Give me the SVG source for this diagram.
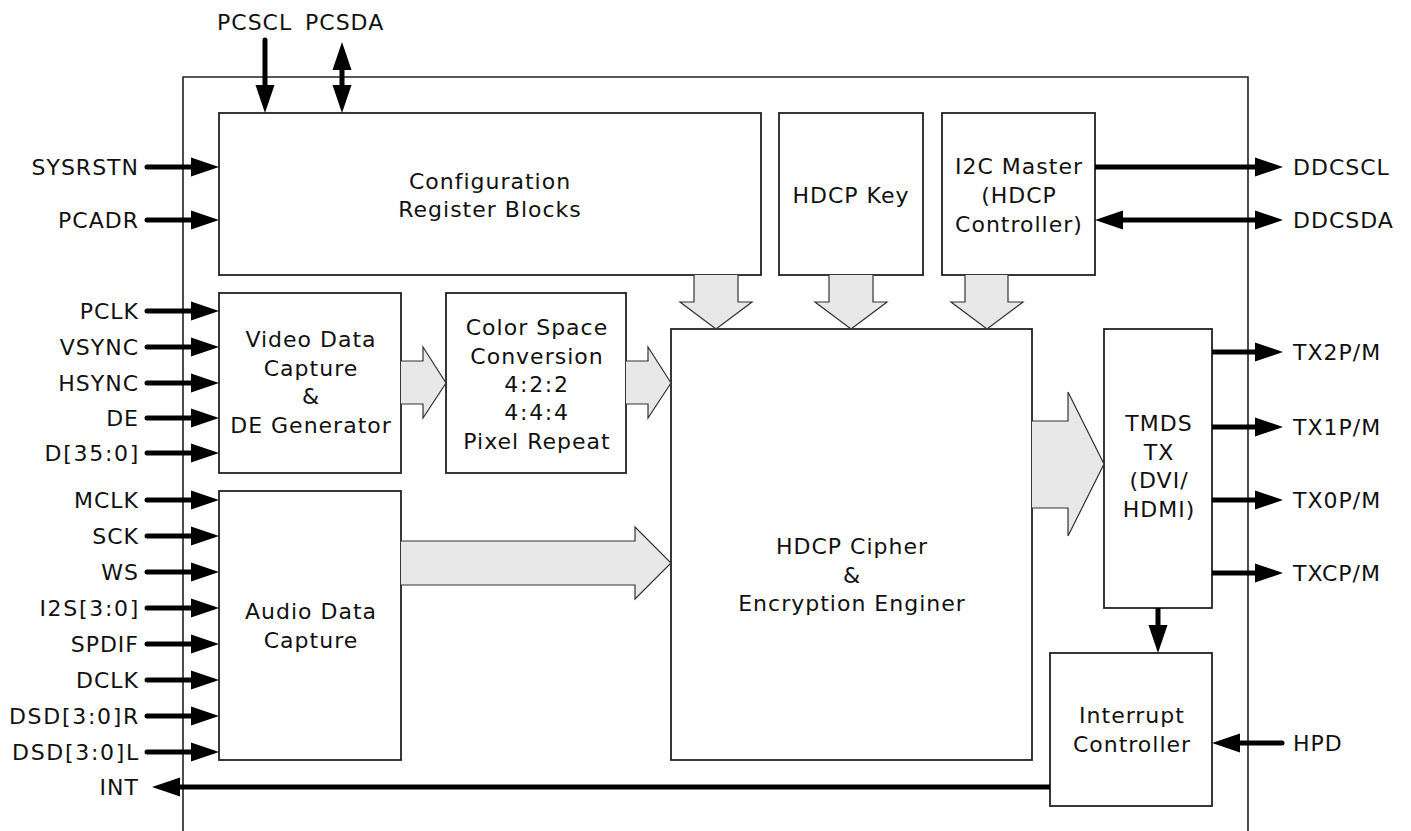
<svg xmlns="http://www.w3.org/2000/svg" width="1411" height="831" viewBox="0 0 1411 831">
<style>
text{font-family:"DejaVu Sans",Verdana,sans-serif;font-size:22px;letter-spacing:1px;fill:#111}
.c{text-anchor:middle}
.e{text-anchor:end}
.w{letter-spacing:1.7px}
.box{fill:#fff;stroke:#222;stroke-width:1.8}
.frame{fill:none;stroke:#222;stroke-width:1.6}
.sig{fill:none;stroke:#000;stroke-width:5;stroke-linecap:round}
.sigb{fill:none;stroke:#000;stroke-width:5;stroke-linecap:butt}
.bus{fill:#e8e8e8;stroke:#333;stroke-width:1.2;stroke-linejoin:miter}
</style>
<defs>
<marker id="ah" markerUnits="userSpaceOnUse" markerWidth="28" markerHeight="19" refX="0" refY="9.5" orient="auto-start-reverse" overflow="visible">
<path d="M0,0 L28,9.5 L0,19 Z" fill="#000"/>
</marker>
</defs>
<rect width="1411" height="831" fill="#fff"/>
<path id="frame" class="frame" d="M183,831 V77 H1248 V831"/>

<g id="config"><rect class="box" x="219" y="113" width="542" height="162"/><text class="c" x="490" y="189">Configuration</text><text class="c" x="490" y="217">Register Blocks</text></g>
<g id="hdcpkey"><rect class="box" x="779" y="113" width="144" height="162"/><text class="c" x="851" y="203">HDCP Key</text></g>
<g id="i2c"><rect class="box" x="942" y="113" width="153" height="162"/><text class="c" x="1019" y="174">I2C Master</text><text class="c" x="1019" y="203">(HDCP</text><text class="c" x="1019" y="232">Controller)</text></g>
<g id="video"><rect class="box" x="219" y="293" width="182" height="180"/><text class="c" x="311" y="347">Video Data</text><text class="c" x="311" y="376">Capture</text><text class="c" x="311" y="404">&amp;</text><text class="c" x="311" y="433">DE Generator</text></g>
<g id="csc"><rect class="box" x="446" y="293" width="180" height="180"/><text class="c" x="537" y="335">Color Space</text><text class="c" x="537" y="364">Conversion</text><text class="c w" x="537" y="392">4:2:2</text><text class="c w" x="537" y="420">4:4:4</text><text class="c" x="537" y="449">Pixel Repeat</text></g>
<g id="audio"><rect class="box" x="219" y="491" width="182" height="269"/><text class="c" x="311" y="619">Audio Data</text><text class="c" x="311" y="648">Capture</text></g>
<g id="cipher"><rect class="box" x="671" y="329" width="361" height="431"/><text class="c" x="852" y="554">HDCP Cipher</text><text class="c" x="852" y="583">&amp;</text><text class="c" x="852" y="611">Encryption Enginer</text></g>
<g id="tmds"><rect class="box" x="1104" y="329" width="108" height="279"/><text class="c" x="1159" y="431">TMDS</text><text class="c" x="1159" y="460">TX</text><text class="c" x="1159" y="488">(DVI/</text><text class="c" x="1159" y="517">HDMI)</text></g>
<g id="intc"><rect class="box" x="1050" y="653" width="162" height="153"/><text class="c" x="1132" y="723">Interrupt</text><text class="c" x="1132" y="752">Controller</text></g>

<g id="labels">
<text x="217" y="30">PCSCL</text><text x="305" y="30">PCSDA</text>
<text class="e" x="139" y="175">SYSRSTN</text>
<text class="e" x="139" y="228">PCADR</text>
<text class="e" x="139" y="319">PCLK</text>
<text class="e" x="139" y="355">VSYNC</text>
<text class="e" x="139" y="391">HSYNC</text>
<text class="e" x="139" y="426">DE</text>
<text class="e w" x="140" y="461">D[35:0]</text>
<text class="e" x="139" y="508">MCLK</text>
<text class="e" x="139" y="544">SCK</text>
<text class="e" x="139" y="580">WS</text>
<text class="e w" x="140" y="616">I2S[3:0]</text>
<text class="e" x="139" y="652">SPDIF</text>
<text class="e" x="139" y="688">DCLK</text>
<text class="e w" x="140" y="724">DSD[3:0]R</text>
<text class="e w" x="140" y="760">DSD[3:0]L</text>
<text class="e" x="139" y="795">INT</text>
<text x="1293" y="175">DDCSCL</text>
<text x="1293" y="228">DDCSDA</text>
<text x="1293" y="360">TX2P/M</text>
<text x="1293" y="435">TX1P/M</text>
<text x="1293" y="508">TX0P/M</text>
<text x="1293" y="581">TXCP/M</text>
<text x="1293" y="751">HPD</text>
</g>

<g id="connectors">
<path class="bus" d="M401,361 H423 V347 L446,383 L423,418 V404 H401"/>
<path class="bus" d="M626,361 H648 V347 L671,383 L648,418 V404 H626"/>
<path class="bus" d="M401,541 H635 V527 L671,563 L635,599 V585 H401"/>
<path class="bus" d="M1032,421 H1068 V392 L1104,464 L1068,536 V508 H1032"/>
<path class="bus" d="M694,275 V302 H680 L716,329 L752,302 H738 V275"/>
<path class="bus" d="M829,275 V302 H815 L851,329 L887,302 H873 V275"/>
<path class="bus" d="M965,275 V302 H951 L987,329 L1023,302 H1008 V275"/>

<path class="sig" d="M265,40 V85" marker-end="url(#ah)"/>
<path class="sig" d="M342,70 V85" marker-start="url(#ah)" marker-end="url(#ah)"/>
<path class="sig" d="M147,167 H191" marker-end="url(#ah)"/>
<path class="sig" d="M147,220 H191" marker-end="url(#ah)"/>
<path class="sig" d="M147,311 H191" marker-end="url(#ah)"/>
<path class="sig" d="M147,347 H191" marker-end="url(#ah)"/>
<path class="sig" d="M147,383 H191" marker-end="url(#ah)"/>
<path class="sig" d="M147,418 H191" marker-end="url(#ah)"/>
<path class="sig" d="M147,453 H191" marker-end="url(#ah)"/>
<path class="sig" d="M147,500 H191" marker-end="url(#ah)"/>
<path class="sig" d="M147,536 H191" marker-end="url(#ah)"/>
<path class="sig" d="M147,572 H191" marker-end="url(#ah)"/>
<path class="sig" d="M147,608 H191" marker-end="url(#ah)"/>
<path class="sig" d="M147,644 H191" marker-end="url(#ah)"/>
<path class="sig" d="M147,680 H191" marker-end="url(#ah)"/>
<path class="sig" d="M147,716 H191" marker-end="url(#ah)"/>
<path class="sig" d="M147,752 H191" marker-end="url(#ah)"/>
<path class="sigb" d="M1050,787 H180" marker-end="url(#ah)"/>
<path class="sigb" d="M1095,167 H1255" marker-end="url(#ah)"/>
<path class="sigb" d="M1123,220 H1255" marker-start="url(#ah)" marker-end="url(#ah)"/>
<path class="sigb" d="M1212,352 H1255" marker-end="url(#ah)"/>
<path class="sigb" d="M1212,427 H1255" marker-end="url(#ah)"/>
<path class="sigb" d="M1212,500 H1255" marker-end="url(#ah)"/>
<path class="sigb" d="M1212,573 H1255" marker-end="url(#ah)"/>
<path class="sig" d="M1282,743 H1240" marker-end="url(#ah)"/>
<path class="sigb" d="M1158,608 V625" marker-end="url(#ah)"/>
</g>
</svg>
